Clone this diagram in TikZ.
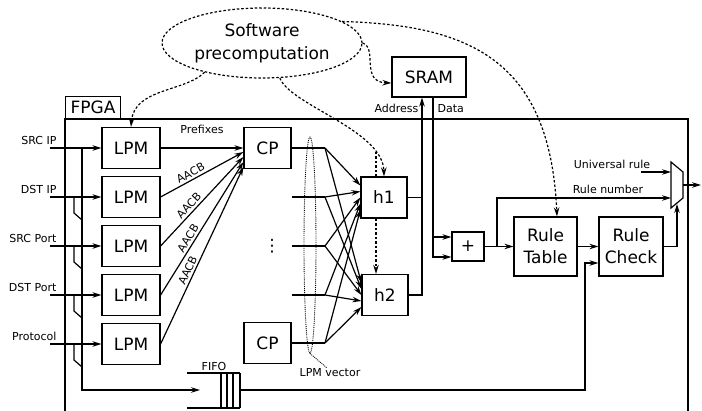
\documentclass[tikz,border=0pt]{standalone}
\usepackage{fontspec}
\setmainfont{DejaVu Sans}
\usetikzlibrary{arrows.meta,shapes.geometric}

\tikzset{
	blk/.style={draw, fill=white, inner sep=0pt, align=center, font=\fontsize{17}{22}\selectfont},
	lbl/.style={inner sep=0pt, font=\fontsize{11}{13}\selectfont},
	arr/.style={-{Stealth[length=9pt,width=5.5pt,inset=3pt]}},
	soft/.style={dash pattern=on 2.5pt off 2pt},
}

\begin{document}
\begin{tikzpicture}[x=1pt, y=-1pt, line width=1.2pt]
	\useasboundingbox (0,0) rectangle (702,411);
	% chip outline
	\node[draw, anchor=south west, minimum width=55pt, minimum height=22pt, inner sep=0pt, font=\fontsize{17}{20}\selectfont] (fpga) at (65,119) {FPGA};
	\draw (65,411) -- (fpga.south west) -- (688,119) -- (688,411);

	% header fields into the LPM stages
	\foreach \name/\yy [count=\i] in {SRC IP/148, DST IP/197, SRC Port/246, DST Port/295, Protocol/344} {
		\node[blk, minimum width=58pt, minimum height=41pt] (lpm\i) at (131,\yy) {LPM};
		\coordinate (in\i) at (50,\yy);
		\node[lbl, anchor=base east] (inlbl\i) at (57,{\yy-3}) {\name};
		\draw[arr] (in\i) -- (lpm\i);
	}
	\coordinate (bustop) at (82,148);
	\coordinate (busend) at (82,390);
	\coordinate (fifoin) at (200,390);
	\draw[arr] (bustop) -- (busend) -- (fifoin);
	\foreach \i in {2,...,5}
		\draw ([xshift=24pt]in\i) -- ++(0,16) -- ++(8,7);

	% fifo
	\draw (187,373) -- (240,373) (187,408) -- (240,408);
	\foreach \xx in {221,227,233,240}
		\draw (\xx,373) -- (\xx,408);
	\node[minimum width=19pt, minimum height=35pt, inner sep=0pt] (fifo) at (230.5,390) {};
	\node[lbl, anchor=base] (fifolbl) at (214,371) {FIFO};

	% combine prefixes
	\node[blk, minimum width=47pt, minimum height=41pt] (cp1) at (267.5,148) {CP};
	\node[blk, minimum width=47pt, minimum height=41pt] (cp2) at (267.5,343) {CP};
	\draw[arr] (lpm1.east) -- node[lbl, above=14pt] (pfxlbl) {Prefixes} (lpm1.east -| cp1.west);
	\foreach \i in {2,...,5}
		\draw[arr] (lpm\i.east) -- node[lbl, pos=0.4, sloped, above=2pt] (aacb\i) {AACB} ([yshift={-(5*\i-6)*1pt}]cp1.west);

	% hashing of the lpm vector
	\node[blk, minimum width=46pt, minimum height=41pt] (h1) at (384,197.5) {h1};
	\node[blk, minimum width=46pt, minimum height=41pt] (h2) at (385,295) {h2};
	\foreach \yy [count=\i] in {148,197,246,295,343} {
		\coordinate (fan\i) at (325,\yy);
		\coordinate (rowin\i) at (292,\yy);
		\draw[arr] (fan\i) -- ([yshift={(3-\i)*6pt}]h1.west);
		\draw[arr] (fan\i) -- ([yshift={(3-\i)*6pt}]h2.west);
	}
	\draw (cp1.east) -- (fan1);
	\draw (cp2.east) -- (fan5);
	\foreach \i in {2,3,4}
		\draw (rowin\i) -- (fan\i);
	\node[inner sep=0pt, font=\fontsize{17}{17}\selectfont] (vdots) at (272,246) {⋮};
	\node[ellipse, draw, densely dotted, line width=0.9pt, minimum width=12pt, minimum height=216pt, inner sep=0pt] (vecring) at (310,245) {};
	\node[lbl, anchor=north] (veclbl) at (330,368) {LPM vector};
	\draw[densely dotted, line width=0.9pt] (vecring.south) -- ([xshift=-3pt]veclbl.north);

	% sram lookup
	\node[blk, minimum width=74pt, minimum height=40pt] (sram) at (429,77) {SRAM};
	\coordinate (abus) at (422,295);
	\draw (h1.east) -- (h1.east -| abus);
	\draw[arr] (h2.east) -- (abus) -- (abus |- sram.south);
	\node[lbl, anchor=base east] (addrlbl) at (419,113) {Address};
	\node[lbl, anchor=base west] (datalbl) at (437,113) {Data};

	\node[blk, minimum width=32pt, minimum height=29pt] (plus) at (468,246.5) {+};
	\coordinate (dtap) at (433,237);
	\coordinate (dbus) at (433,257);
	\draw[arr] (sram.south -| dbus) -- (dbus) -- (dbus -| plus.west);
	\draw[arr] (dtap) -- (dtap -| plus.west);

	% rule stages
	\node[blk, minimum width=63pt, minimum height=59pt] (rtable) at (545.5,246.5) {Rule\\Table};
	\node[blk, minimum width=64pt, minimum height=59pt] (rcheck) at (631,246.5) {Rule\\Check};
	\draw[arr] (plus.east) -- (rtable.west);
	\draw[arr] (rtable.east) -- (rcheck.west);
	\draw[arr] (fifo.east) -- (585,390) |- ([yshift=-16.5pt]rcheck.west);

	% output mux
	\draw (671,162) -- (683,172) -- (683,198) -- (671,208) -- cycle;
	\coordinate (muxin1) at (671,172);
	\coordinate (muxin2) at (671,198);
	\coordinate (muxsel) at (677,204);
	\coordinate (muxout) at (683,185);
	\coordinate (outend) at (701,185);
	\coordinate (univ) at (641,172);
	\coordinate (rnsplit) at (497,246.5);
	\draw[arr] (univ) -- (muxin1);
	\draw[arr] (rnsplit) |- (muxin2);
	\draw[arr] (rcheck.east) -| (muxsel);
	\draw[arr] (muxout) -- (outend);
	\node[lbl, anchor=base] (univlbl) at (612,169) {Universal rule};
	\node[lbl, anchor=base] (rnlbl) at (608,194) {Rule number};

	% software side
	\node[ellipse, draw, soft, minimum width=200pt, minimum height=70pt, inner sep=0pt, align=center, font=\fontsize{17}{23}\selectfont] (sw) at (262,43) {Software\\precomputation};
	\draw[soft, arr] (sw.207) .. controls (185,92) and (134,88) .. (lpm1.north);
	\draw[soft, arr] (sw.297) .. controls (290,105) and (383,130) .. (h1.north);
	\coordinate (hsplit) at (376,152);
	\draw[soft] (hsplit) -- (h1.north -| hsplit);
	\draw[soft, arr] (h1.south -| hsplit) -- (h2.north -| hsplit);
	\draw[soft, arr] (sw.east) .. controls (378,48) and (360,82) .. ([yshift=-6pt]sram.west);
	\draw[soft, arr] (sw.15) .. controls (470,25) and (550,60) .. ([xshift=11.5pt]rtable.north);
\end{tikzpicture}
\end{document}
